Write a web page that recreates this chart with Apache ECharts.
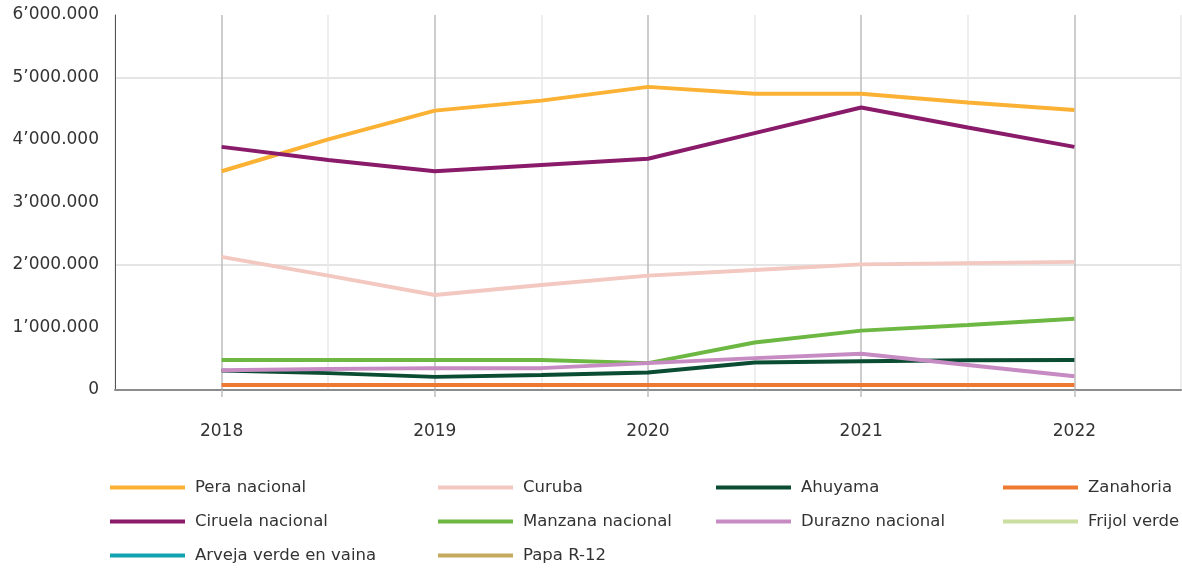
<!DOCTYPE html>
<html>
<head>
<meta charset="utf-8">
<script src="https://cdn.jsdelivr.net/npm/echarts@6/dist/echarts.min.js"></script>
<style>
  html, body { margin: 0; padding: 0; background: #fff; }
  #chart { width: 1182px; height: 568px; }
</style>
</head>
<body>
<div id="chart"></div>
<script>
// half-year steps, only whole years get a label
var periods = ['2017.5', '2018', '2018.5', '2019', '2019.5', '2020', '2020.5', '2021', '2021.5', '2022', '2022.5'];

var pera      = [3500000, 4010000, 4470000, 4630000, 4850000, 4740000, 4740000, 4600000, 4480000];
var curuba    = [2130000, 1830000, 1520000, 1680000, 1830000, 1920000, 2010000, 2030000, 2050000];
var ahuyama   = [310000, 270000, 210000, 240000, 280000, 440000, 460000, 475000, 480000];
var zanahoria = [80000, 80000, 80000, 80000, 80000, 80000, 80000, 80000, 80000];
var ciruela   = [3890000, 3680000, 3500000, 3600000, 3700000, 4110000, 4520000, 4200000, 3890000];
var manzana   = [480000, 480000, 480000, 480000, 430000, 760000, 950000, 1040000, 1140000];
var durazno   = [315000, 335000, 350000, 350000, 430000, 510000, 580000, 400000, 220000];
var frijol    = [];
var arveja    = [];
var papa      = [];

var names  = ['Pera nacional', 'Curuba', 'Ahuyama', 'Zanahoria', 'Ciruela nacional',
              'Manzana nacional', 'Durazno nacional', 'Frijol verde', 'Arveja verde en vaina', 'Papa R-12'];
var values = [pera, curuba, ahuyama, zanahoria, ciruela, manzana, durazno, frijol, arveja, papa];
var colors = ['#fbb234', '#f2c8c0', '#0b4d33', '#ee7a31', '#8a1b6a',
              '#6cb843', '#c68bc2', '#c9de9f', '#12a3b0', '#c5a95f'];

function pad(arr) {
  if (!arr.length) return [];
  return [null].concat(arr, [null]);
}

function fmt(v) {
  if (v === 0) return '0';
  var m = Math.floor(v / 1000000);
  var rest = String(v % 1000000).padStart(6, '0');
  return m + '\u2019' + rest.slice(0, 3) + '.' + rest.slice(3);
}

var font = 'DejaVu Sans, sans-serif';

function legendCol(left, items) {
  return {
    orient: 'vertical',
    left: left,
    top: 477,
    height: 110,
    padding: 0,
    itemWidth: 75,
    itemHeight: 4,
    itemGap: 13,
    icon: 'rect',
    textStyle: { color: '#333', fontSize: 16.5, lineHeight: 21, fontFamily: font, padding: [0, 0, 0, 5] },
    data: items
  };
}

var chart = echarts.init(document.getElementById('chart'));
chart.setOption({
  animation: false,
  grid: { left: 115, right: 1, top: 15, bottom: 178 },
  legend: [
    legendCol(110, ['Pera nacional', 'Ciruela nacional', 'Arveja verde en vaina']),
    legendCol(438, ['Curuba', 'Manzana nacional', 'Papa R-12']),
    legendCol(716, ['Ahuyama', 'Durazno nacional']),
    legendCol(1003, ['Zanahoria', 'Frijol verde'])
  ],
  xAxis: {
    type: 'category',
    data: periods,
    boundaryGap: false,
    axisLine: { lineStyle: { color: '#8c8c8c', width: 2 } },
    axisTick: {
      length: 7,
      interval: function (i) { return i % 2 === 1; },
      lineStyle: { color: '#bdbdbd', width: 1.5 }
    },
    axisLabel: {
      interval: function (i) { return i % 2 === 1; },
      margin: 33,
      color: '#333',
      fontSize: 17,
      fontFamily: font
    },
    splitLine: {
      show: true,
      interval: 0,
      lineStyle: { color: ['#e8e8e8', '#bdbdbd'], width: 1.5 }
    }
  },
  yAxis: {
    type: 'value',
    min: 0,
    max: 6000000,
    interval: 1000000,
    axisLine: { show: true, lineStyle: { color: '#555', width: 1 } },
    axisTick: { show: false },
    axisLabel: {
      margin: 16,
      color: '#333',
      fontSize: 17,
      fontFamily: font,
      formatter: fmt
    },
    splitLine: {
      show: true,
      lineStyle: { color: ['rgba(0,0,0,0)', 'rgba(0,0,0,0)', '#dddddd'], width: 1.5 }
    }
  },
  series: names.map(function (n, i) {
    return {
      name: n,
      type: 'line',
      data: pad(values[i]),
      symbol: 'none',
      color: colors[i],
      lineStyle: { width: 4 },
      z: i === 3 ? 3 : 2
    };
  })
});
</script>
</body>
</html>
